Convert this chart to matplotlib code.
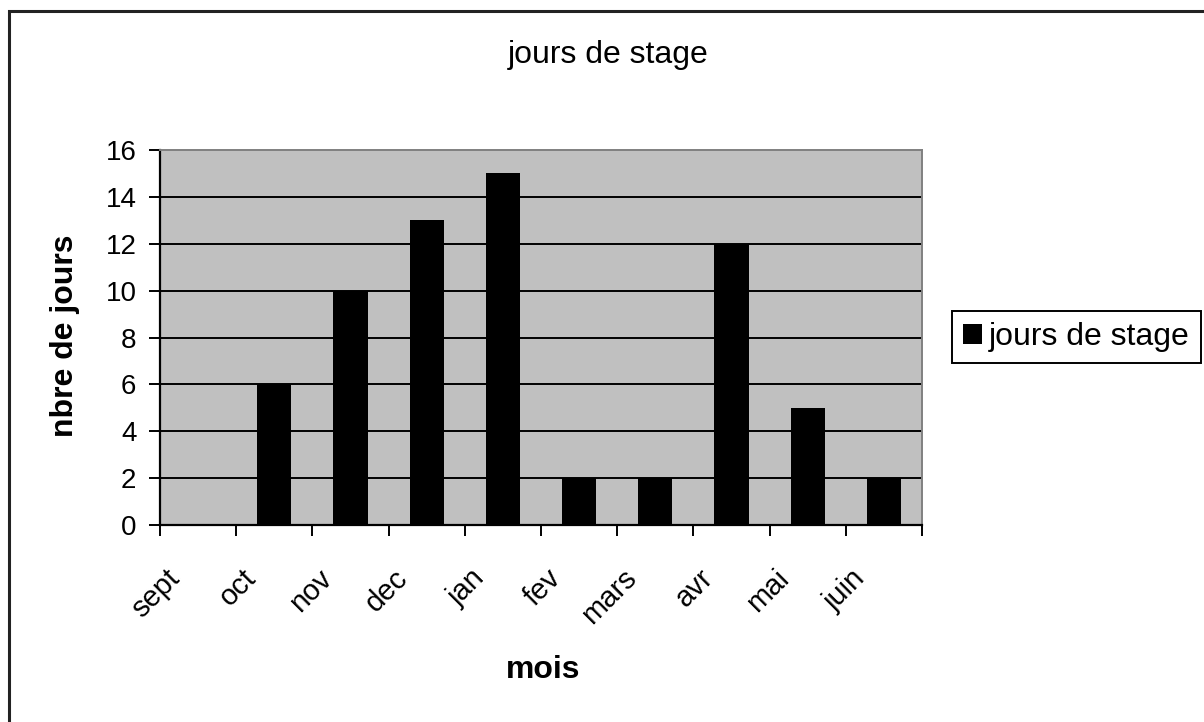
import matplotlib
matplotlib.use('Agg')
import matplotlib.pyplot as plt
import matplotlib.transforms as mtransforms
from matplotlib.patches import Rectangle
import numpy as np

# --- DATA ---
mois = ["sept", "oct", "nov", "dec", "jan", "fev", "mars", "avr", "mai", "juin"]
jours = [0, 6, 10, 13, 15, 2, 2, 12, 5, 2]
serie = "jours de stage"
y_ticks = [0, 2, 4, 6, 8, 10, 12, 14, 16]

plt.rcParams['font.family'] = ['Liberation Sans', 'DejaVu Sans']

W, H = 1204, 722
fig = plt.figure(figsize=(W / 100, H / 100), dpi=100)
fig.patch.set_facecolor('white')

# plot area in pixel coords: x 160..922, y 150..525
ax = fig.add_axes([160 / W, 1 - 525 / H, (922 - 160) / W, (525 - 150) / H])
ax.set_facecolor('#c0c0c0')

x = np.arange(len(mois))
bars = ax.bar(x, jours, width=0.45, color='black', label=serie, zorder=3)

ax.set_xlim(-0.5, len(mois) - 0.5)
ax.set_ylim(0, 16)
ax.set_yticks(y_ticks)
ax.set_yticklabels([str(v) for v in y_ticks], fontsize=20)
for v in y_ticks[1:-1]:
    ax.axhline(v, color='black', lw=1.4, zorder=2)

# ticks on category boundaries, labels at category centres
ax.set_xticks(np.arange(-0.5, len(mois)), minor=True)
ax.set_xticks(x)
ax.set_xticklabels(mois, rotation=45, ha='right', va='top', fontsize=21)
ax.tick_params(axis='x', which='major', length=0, pad=28)
ax.tick_params(axis='x', which='minor', length=8, width=1.4, direction='out', color='black')
ax.tick_params(axis='y', length=8, width=1.4, direction='out', pad=9)
offset = mtransforms.ScaledTranslation(-13 / 100, 0, fig.dpi_scale_trans)
for lab in ax.get_xticklabels():
    lab.set_transform(lab.get_transform() + offset)

for side in ['left', 'bottom']:
    ax.spines[side].set_color('black')
    ax.spines[side].set_linewidth(1.6)
for side in ['top', 'right']:
    ax.spines[side].set_color('#808080')
    ax.spines[side].set_linewidth(1.4)

# titles
fig.text(608 / W, 1 - 55 / H, "jours de stage", ha='center', va='center', fontsize=23)
fig.text(65 / W, 1 - 336 / H, "nbre de jours", ha='center', va='center',
         rotation=90, fontsize=23, fontweight='bold')
fig.text(543 / W, 1 - 670 / H, "mois", ha='center', va='center', fontsize=23, fontweight='bold')

leg = ax.legend(loc='center left', bbox_to_anchor=(952 / W, 1 - 337 / H),
                bbox_transform=fig.transFigure, fontsize=23, frameon=True,
                fancybox=False, framealpha=1, edgecolor='black',
                handlelength=0.6, handleheight=0.6, handletextpad=0.2,
                borderpad=0.35, borderaxespad=0)
leg.get_frame().set_linewidth(1.4)

# outer chart frame, cut off at right and bottom like the reference
fig.patches.append(Rectangle((9 / W, -0.1), 1.2, 1 - 11 / H + 0.1,
                             transform=fig.transFigure, fill=False,
                             lw=2.2, edgecolor='#222222'))

fig.savefig('out.png', dpi=100)
